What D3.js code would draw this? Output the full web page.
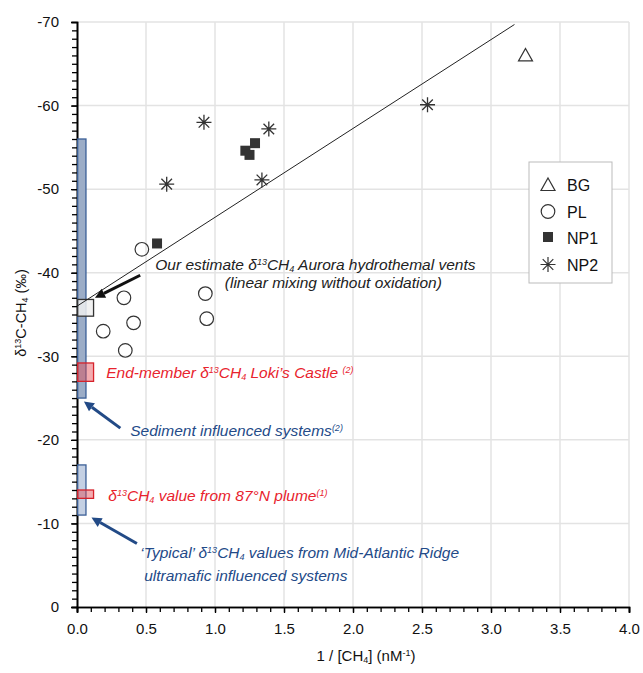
<!DOCTYPE html>
<html>
<head>
<meta charset="utf-8">
<script src="https://cdn.jsdelivr.net/npm/d3@7"></script>
<style>
  body { margin: 0; background: #fff; }
  svg { font-family: "Liberation Sans", Arial, sans-serif; }
</style>
</head>
<body>
<svg id="chart" width="643" height="673"></svg>
<script>
// measured series
const bgX = [3.25]
const bgY = [-66.0]
const plX = [0.47, 0.34, 0.41, 0.19, 0.93, 0.94, 0.35]
const plY = [-42.8, -37.0, -34.0, -33.0, -37.5, -34.5, -30.7]
const np1X = [0.58, 1.22, 1.25, 1.29]
const np1Y = [-43.5, -54.6, -54.1, -55.5]
const np2X = [0.65, 0.92, 1.39, 1.34, 2.54]
const np2Y = [-50.6, -58.0, -57.2, -51.1, -60.1]
// linear mixing line
const mixX = [0, 3.17]
const mixY = [-36.0, -69.7]
// reference ranges (boxes at the y axis)
const rangeNames = ['sediment', 'typical', 'loki', 'plume', 'estimate']
const rangeX0 = [0.005, 0.005, 0.005, 0.005, 0.005]
const rangeX1 = [0.065, 0.065, 0.12, 0.12, 0.12]
const rangeLow = [-25, -11, -27, -13, -34.8]
const rangeHigh = [-56, -17, -29.2, -14, -36.8]

const xTicks = [0, 0.5, 1, 1.5, 2, 2.5, 3, 3.5, 4]
const yTicks = [0, -10, -20, -30, -40, -50, -60, -70]
const legendNames = ['BG', 'PL', 'NP1', 'NP2']

const svg = d3.select('#chart')
const plotLeft = 77, plotRight = 629, plotTop = 22, plotBottom = 607

const x = d3.scaleLinear().domain([0, 4]).range([plotLeft, plotRight])
const y = d3.scaleLinear().domain([0, -70]).range([plotBottom, plotTop])

// grid
svg.append('g').selectAll('line').data(xTicks.slice(1)).enter().append('line')
  .attr('x1', d => x(d)).attr('x2', d => x(d)).attr('y1', plotTop).attr('y2', plotBottom)
  .attr('stroke', '#e3e3e3').attr('stroke-width', 1.5)
svg.append('g').selectAll('line').data(yTicks.slice(1)).enter().append('line')
  .attr('x1', plotLeft).attr('x2', plotRight).attr('y1', d => y(d)).attr('y2', d => y(d))
  .attr('stroke', '#e3e3e3').attr('stroke-width', 1.5)

// axes
const xAxis = d3.axisBottom(x).tickValues(xTicks).tickFormat(d => d.toFixed(1)).tickSize(6).tickPadding(10)
const xMinor = d3.axisBottom(x).tickValues(d3.range(0, 40).map(i => i / 10)).tickFormat('').tickSize(5)
const yAxis = d3.axisLeft(y).tickValues(yTicks).tickFormat(d => String(d)).tickSize(6).tickPadding(12)
const yMinor = d3.axisLeft(y).tickValues(d3.range(0, 70).map(i => -i)).tickFormat('').tickSize(5)

function styleAxis(g) {
  g.select('.domain').attr('stroke', '#000').attr('stroke-width', 1.6)
  g.selectAll('.tick line').attr('stroke', '#000').attr('stroke-width', 1.3)
  g.selectAll('.tick text').attr('font-size', 15).attr('fill', '#111')
    .attr('font-family', '"Liberation Sans", Arial, sans-serif')
}
svg.append('g').attr('transform', `translate(0,${plotBottom})`).call(xMinor).call(styleAxis)
svg.append('g').attr('transform', `translate(0,${plotBottom})`).call(xAxis).call(styleAxis)
svg.append('g').attr('transform', `translate(${plotLeft},0)`).call(yMinor).call(styleAxis)
svg.append('g').attr('transform', `translate(${plotLeft},0)`).call(yAxis).call(styleAxis)

// axis titles
const yt = svg.append('text').attr('transform', 'translate(26,313) rotate(-90)')
  .attr('text-anchor', 'middle').attr('font-size', 14.5).attr('fill', '#111')
yt.append('tspan').text('δ')
yt.append('tspan').text('13').attr('font-size', 9).attr('baseline-shift', '55%')
yt.append('tspan').text('C-CH')
yt.append('tspan').text('4').attr('font-size', 9).attr('baseline-shift', '-20%')
yt.append('tspan').text(' (‰)')

const xt = svg.append('text').attr('x', 366).attr('y', 661)
  .attr('text-anchor', 'middle').attr('font-size', 15).attr('fill', '#111')
xt.append('tspan').text('1 / [CH')
xt.append('tspan').text('4').attr('font-size', 9).attr('baseline-shift', '-20%')
xt.append('tspan').text('] (nM')
xt.append('tspan').text('-1').attr('font-size', 9).attr('baseline-shift', '55%')
xt.append('tspan').text(')')

// reference boxes
const rangeFill = { sediment: '#9cadc7', typical: '#c4d0e3', loki: 'rgba(228,70,80,0.45)', plume: 'rgba(228,70,80,0.45)', estimate: 'rgba(238,238,238,0.85)' }
const rangeStroke = { sediment: '#3b5f97', typical: '#3b5f97', loki: '#d6222b', plume: '#d6222b', estimate: '#333' }
svg.append('g').selectAll('rect').data(rangeNames).enter().append('rect')
  .attr('x', (d, i) => x(rangeX0[i]))
  .attr('width', (d, i) => x(rangeX1[i]) - x(rangeX0[i]))
  .attr('y', (d, i) => y(rangeHigh[i]))
  .attr('height', (d, i) => y(rangeLow[i]) - y(rangeHigh[i]))
  .attr('fill', d => rangeFill[d]).attr('stroke', d => rangeStroke[d]).attr('stroke-width', 1.3)

// mixing line
svg.append('path').datum(d3.zip(mixX, mixY))
  .attr('d', d3.line().x(d => x(d[0])).y(d => y(d[1])))
  .attr('stroke', '#222').attr('stroke-width', 1).attr('fill', 'none')

// markers
const ink = '#333'
svg.append('g').selectAll('path').data(d3.zip(bgX, bgY)).enter().append('path')
  .attr('transform', d => `translate(${x(d[0])},${y(d[1])})`)
  .attr('d', 'M0,-7L7,5.5L-7,5.5Z').attr('fill', 'none').attr('stroke', ink).attr('stroke-width', 1.2)
svg.append('g').selectAll('circle').data(d3.zip(plX, plY)).enter().append('circle')
  .attr('cx', d => x(d[0])).attr('cy', d => y(d[1])).attr('r', 6.8)
  .attr('fill', 'none').attr('stroke', ink).attr('stroke-width', 1.2)
svg.append('g').selectAll('rect').data(d3.zip(np1X, np1Y)).enter().append('rect')
  .attr('x', d => x(d[0]) - 5).attr('y', d => y(d[1]) - 5).attr('width', 10).attr('height', 10)
  .attr('fill', ink)
const star = 'M-7.5,0H7.5M0,-7.5V7.5M-5.3,-5.3L5.3,5.3M-5.3,5.3L5.3,-5.3'
svg.append('g').selectAll('path').data(d3.zip(np2X, np2Y)).enter().append('path')
  .attr('transform', d => `translate(${x(d[0])},${y(d[1])})`)
  .attr('d', star).attr('stroke', ink).attr('stroke-width', 1.3).attr('fill', 'none')

// arrows
const arrowFrom = [[0.458, -39.7], [0.314, -21.4], [0.434, -7.6]]
const arrowTo = [[0.13, -37.0], [0.05, -24.6], [0.105, -10.7]]
const arrowColor = ['#111', '#224a86', '#224a86']
arrowColor.forEach((c, i) => {
  const x1 = x(arrowFrom[i][0]), y1 = y(arrowFrom[i][1])
  const x2 = x(arrowTo[i][0]), y2 = y(arrowTo[i][1])
  const a = Math.atan2(y2 - y1, x2 - x1)
  const hl = 10, hw = 5
  const bx = x2 - hl * Math.cos(a), by = y2 - hl * Math.sin(a)
  svg.append('line').attr('x1', x1).attr('y1', y1).attr('x2', bx).attr('y2', by)
    .attr('stroke', c).attr('stroke-width', 3)
  svg.append('path')
    .attr('d', `M${x2},${y2}L${bx - hw * Math.sin(a)},${by + hw * Math.cos(a)}L${bx + hw * Math.sin(a)},${by - hw * Math.cos(a)}Z`)
    .attr('fill', c)
})

// annotations
function label(px, py, color, parts) {
  const t = svg.append('text').attr('x', x(px)).attr('y', y(py))
    .attr('font-size', 15.5).attr('font-style', 'italic').attr('fill', color)
  parts.forEach(p => {
    const s = t.append('tspan').text(p[0])
    if (p[1] === 'sup') s.attr('font-size', 9).attr('baseline-shift', '60%')
    if (p[1] === 'sub') s.attr('font-size', 9).attr('baseline-shift', '-25%')
  })
}
const red = '#e8232d', navy = '#234a88'
label(0.567, -40.3, '#222', [['Our estimate δ'], ['13', 'sup'], ['CH'], ['4', 'sub'], [' Aurora hydrothemal vents']])
label(1.071, -38.2, '#222', [['(linear mixing without oxidation)']])
label(0.212, -27.4, red, [['End-member δ'], ['13', 'sup'], ['CH'], ['4', 'sub'], [' Loki’s Castle '], ['(2)', 'sup']])
label(0.386, -20.5, navy, [['Sediment influenced systems'], ['(2)', 'sup']])
label(0.227, -12.7, red, [['δ'], ['13', 'sup'], ['CH'], ['4', 'sub'], [' value from 87°N plume'], ['(1)', 'sup']])
label(0.458, -5.9, navy, [['‘Typical’ δ'], ['13', 'sup'], ['CH'], ['4', 'sub'], [' values from Mid-Atlantic Ridge']])
label(0.487, -3.15, navy, [['ultramafic influenced systems']])

// legend
const lg = svg.append('g').attr('transform', 'translate(529,162)')
lg.append('rect').attr('width', 83).attr('height', 121).attr('fill', '#fff').attr('stroke', '#bbb')
const legendShape = ['M0,-7L7,5.5L-7,5.5Z', null, null, star]
legendNames.forEach((n, i) => {
  const g = lg.append('g').attr('transform', `translate(19,${23 + i * 26.5})`)
  if (n === 'PL') g.append('circle').attr('r', 6.8).attr('fill', 'none').attr('stroke', ink).attr('stroke-width', 1.2)
  else if (n === 'NP1') g.append('rect').attr('x', -5).attr('y', -6).attr('width', 10).attr('height', 10).attr('fill', ink)
  else g.append('path').attr('d', legendShape[i]).attr('fill', 'none').attr('stroke', ink).attr('stroke-width', 1.2)
  g.append('text').attr('x', 19).attr('y', 6).attr('font-size', 16).attr('fill', '#111').text(n)
})
</script>
</body>
</html>
